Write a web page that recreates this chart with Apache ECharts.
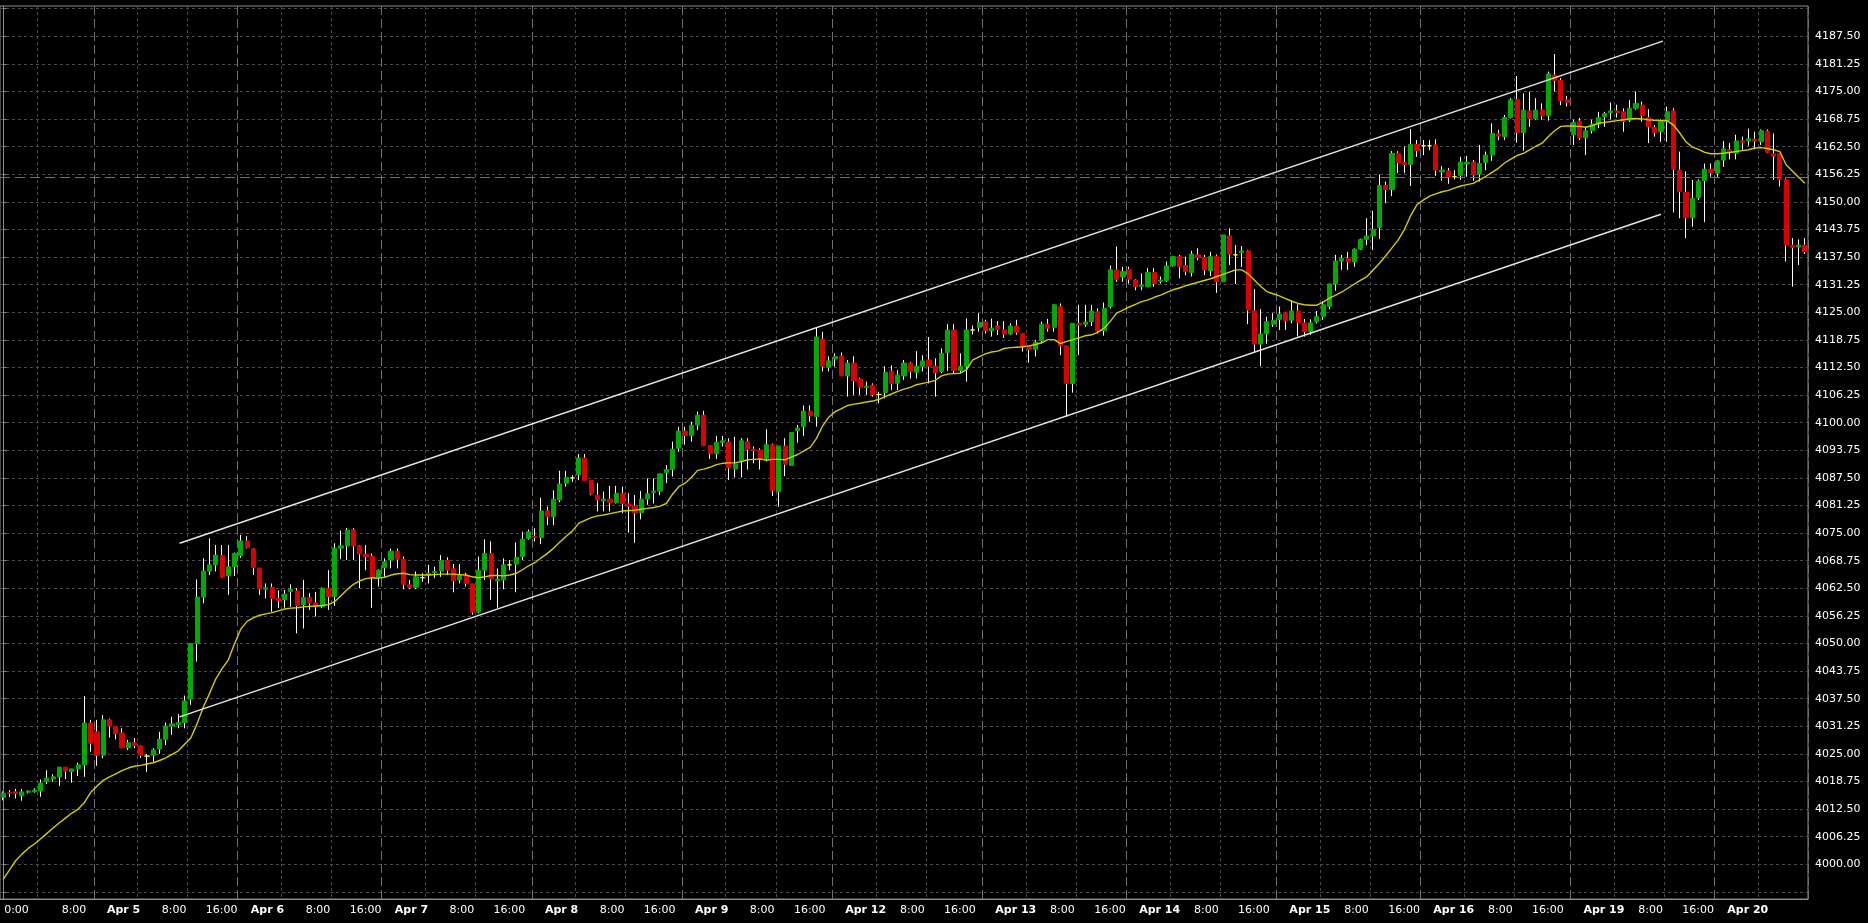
<!DOCTYPE html>
<html>
<head>
<meta charset="utf-8">
<script src="https://cdn.jsdelivr.net/npm/echarts@6/dist/echarts.min.js"></script>
<style>html,body{margin:0;padding:0;background:#000;}#chart{width:1868px;height:923px;}</style>
</head>
<body>
<div id="chart"></div>
<script>
// ---- hourly bars ----
const openP = [
4015.2,4016.3,4016.4,4015.5,4016.3,4016.4,4016.6,4018.7,4019.3,4019.8,
4022.0,4021.0,4021.6,4022.5,4032.0,4030.0,4024.7,4032.7,4031.2,4029.7,
4026.4,4027.5,4026.8,4024.5,4024.7,4026.1,4028.3,4031.3,4031.6,4032.1,
4037.4,4050.0,4060.5,4066.4,4067.8,4069.9,4065.3,4067.4,4069.9,4073.2,
4071.4,4067.1,4062.3,4062.7,4060.2,4059.9,4061.8,4061.9,4058.8,4060.4,
4059.2,4058.3,4062.5,4060.6,4071.6,4072.1,4075.7,4072.1,4070.2,4069.8,
4064.9,4067.2,4068.9,4070.9,4069.1,4063.3,4062.7,4064.9,4065.5,4066.0,
4066.4,4068.8,4066.9,4064.4,4065.3,4063.5,4057.1,4066.6,4070.4,4064.2,
4064.4,4067.8,4068.0,4069.7,4073.8,4074.3,4074.0,4080.0,4078.7,4082.5,
4086.3,4087.5,4088.2,4092.0,4087.0,4083.6,4082.3,4082.7,4081.9,4084.0,
4081.6,4081.1,4079.6,4082.7,4084.2,4084.5,4088.7,4089.4,4094.2,4098.1,
4097.1,4099.5,4101.7,4094.8,4093.0,4095.5,4095.6,4089.5,4091.4,4095.7,
4094.0,4093.8,4091.8,4095.0,4084.4,4094.7,4090.3,4098.2,4099.1,4102.6,
4101.4,4118.9,4112.5,4114.4,4115.1,4110.6,4113.5,4109.9,4108.0,4108.5,
4106.4,4106.8,4111.7,4108.9,4110.6,4113.5,4111.4,4112.8,4114.2,4112.8,
4111.6,4115.9,4121.0,4111.8,4112.7,4121.0,4121.6,4122.9,4120.8,4121.9,
4121.0,4120.1,4121.9,4120.2,4117.5,4116.6,4118.6,4122.3,4121.6,4126.3,
4117.4,4108.9,4122.5,4122.3,4122.9,4125.1,4120.8,4126.3,4134.6,4133.0,
4134.7,4132.3,4130.9,4130.8,4134.0,4132.0,4132.2,4135.5,4137.6,4135.6,
4134.0,4138.0,4137.4,4134.4,4137.7,4131.9,4142.3,4138.0,4138.5,4138.9,
4125.3,4117.8,4120.1,4122.3,4123.4,4124.9,4123.2,4125.3,4122.6,4120.6,
4122.9,4124.0,4126.3,4131.4,4136.6,4137.2,4136.4,4139.3,4141.5,4142.3,
4144.2,4153.7,4152.8,4161.0,4158.9,4158.5,4163.0,4162.7,4162.7,4162.9,
4156.8,4157.0,4155.7,4156.0,4158.6,4159.0,4156.3,4158.9,4160.6,4165.4,
4164.8,4169.1,4173.2,4165.7,4170.6,4168.9,4170.8,4169.5,4178.7,4177.5,
4173.1,4165.2,4168.3,4164.5,4166.1,4167.6,4169.3,4170.2,4170.6,4170.4,
4168.5,4171.2,4171.9,4169.1,4166.9,4165.9,4168.4,4170.6,4157.2,4152.2,
4146.4,4150.9,4154.8,4157.4,4156.5,4159.5,4161.8,4161.0,4163.8,4163.8,
4164.2,4163.6,4166.0,4160.9,4160.9,4155.0,4140.2,4139.8,4140.2];
const closeP = [
4016.1,4016.0,4016.0,4016.4,4016.6,4016.8,4018.4,4019.5,4019.8,4022.0,
4021.1,4021.6,4022.5,4032.0,4027.4,4024.7,4032.7,4031.3,4029.6,4026.4,
4027.5,4026.9,4024.7,4024.5,4025.9,4028.3,4031.3,4031.8,4032.1,4037.0,
4050.0,4060.5,4066.4,4067.8,4070.0,4065.0,4067.4,4070.4,4073.2,4071.7,
4067.2,4062.3,4062.6,4060.2,4059.7,4061.2,4062.3,4058.6,4060.4,4059.2,
4058.3,4062.5,4060.6,4071.6,4072.1,4075.6,4072.1,4070.3,4069.7,4064.9,
4066.6,4068.5,4070.9,4069.1,4063.4,4062.7,4065.1,4064.9,4065.9,4066.3,
4068.8,4066.6,4064.2,4065.4,4063.6,4057.1,4066.6,4070.4,4064.6,4064.6,
4067.8,4067.8,4069.5,4073.6,4075.3,4074.0,4080.0,4078.7,4082.7,4086.1,
4087.6,4087.5,4092.0,4086.9,4083.9,4082.5,4082.7,4081.9,4084.0,4081.7,
4081.1,4079.6,4082.7,4083.9,4084.5,4088.4,4089.4,4094.0,4098.1,4097.1,
4099.4,4101.7,4094.8,4093.0,4095.5,4095.9,4089.8,4090.6,4095.9,4094.0,
4093.7,4091.8,4095.0,4084.6,4094.7,4090.6,4097.8,4098.8,4102.6,4101.6,
4119.4,4112.8,4114.0,4115.0,4110.6,4113.5,4109.5,4108.0,4108.3,4106.4,
4106.4,4111.4,4108.9,4110.8,4113.5,4111.6,4112.8,4114.0,4112.8,4111.3,
4115.7,4121.0,4111.8,4112.8,4121.0,4121.0,4122.7,4120.8,4121.4,4121.1,
4120.1,4121.9,4120.5,4117.4,4116.6,4118.2,4122.3,4121.4,4126.7,4117.4,
4108.9,4122.5,4122.1,4122.8,4125.3,4120.8,4125.9,4134.6,4132.5,4134.2,
4132.5,4130.8,4131.2,4134.0,4131.5,4132.3,4135.5,4137.6,4135.3,4134.2,
4138.2,4137.4,4134.6,4137.6,4131.9,4142.5,4138.2,4138.0,4138.9,4125.5,
4117.8,4120.1,4122.9,4123.2,4124.6,4123.1,4125.3,4122.6,4120.6,4122.6,
4124.0,4126.7,4131.4,4136.6,4137.2,4136.4,4139.3,4141.5,4142.3,4143.8,
4153.7,4152.8,4161.0,4158.9,4158.5,4163.0,4161.6,4162.7,4162.7,4157.2,
4157.2,4155.7,4155.7,4159.0,4159.0,4156.1,4158.7,4160.6,4165.5,4164.9,
4169.1,4173.1,4165.7,4170.8,4168.9,4170.8,4169.5,4179.0,4177.5,4172.9,
4172.5,4168.0,4164.5,4166.1,4167.6,4169.1,4170.0,4170.6,4170.2,4168.2,
4171.2,4172.3,4169.5,4167.0,4165.7,4168.2,4170.4,4157.4,4152.3,4146.4,
4150.8,4154.7,4157.4,4156.6,4159.3,4162.0,4161.2,4163.8,4163.4,4164.3,
4163.8,4166.1,4161.2,4160.4,4155.0,4140.2,4139.7,4140.2,4138.7];
const lowP = [
4014.5,4015.2,4014.9,4014.4,4016.0,4016.2,4015.3,4018.2,4018.7,4017.7,
4019.3,4018.5,4020.0,4019.8,4025.5,4022.3,4024.0,4028.7,4028.3,4026.3,
4025.9,4026.3,4024.1,4020.9,4023.2,4025.0,4027.0,4029.3,4030.8,4030.8,
4036.1,4045.9,4059.1,4065.5,4066.3,4064.8,4061.0,4065.3,4069.4,4071.5,
4065.5,4061.0,4060.2,4057.2,4058.0,4058.1,4058.3,4052.3,4053.4,4057.6,
4056.1,4058.0,4057.6,4058.5,4069.1,4068.9,4068.9,4062.5,4066.6,4058.1,
4062.9,4065.1,4067.0,4067.0,4062.3,4062.3,4062.3,4064.0,4063.6,4064.8,
4065.1,4065.5,4061.6,4063.6,4062.9,4056.5,4056.8,4064.4,4059.9,4058.1,
4062.3,4066.6,4061.6,4068.9,4073.5,4073.1,4072.5,4076.8,4076.8,4082.0,
4085.5,4086.6,4087.0,4086.8,4083.6,4079.9,4079.9,4079.9,4081.7,4079.5,
4075.1,4072.8,4078.1,4081.4,4081.7,4083.6,4086.3,4087.8,4093.4,4095.0,
4095.7,4098.3,4094.7,4091.8,4091.8,4094.6,4087.0,4087.6,4087.6,4089.4,
4090.8,4089.4,4091.2,4083.4,4081.0,4087.9,4090.3,4095.5,4097.0,4100.2,
4099.1,4111.6,4111.6,4112.7,4110.6,4105.9,4106.3,4106.3,4106.3,4105.9,
4104.4,4105.5,4107.4,4107.4,4109.7,4110.0,4110.0,4111.6,4108.9,4105.9,
4111.2,4111.7,4111.2,4111.2,4109.3,4120.0,4120.6,4120.2,4119.5,4119.9,
4119.2,4119.9,4119.9,4116.1,4113.6,4115.0,4118.0,4120.6,4120.6,4115.3,
4101.4,4106.8,4115.3,4121.7,4121.9,4120.2,4119.7,4125.9,4131.9,4131.9,
4131.5,4130.0,4130.0,4130.7,4130.8,4131.5,4131.9,4135.3,4132.7,4133.4,
4133.1,4136.8,4133.4,4133.2,4129.4,4131.9,4135.7,4131.4,4135.3,4122.3,
4115.9,4112.8,4117.9,4121.7,4121.0,4121.0,4122.5,4119.5,4119.5,4119.9,
4122.5,4123.3,4125.7,4129.9,4134.6,4134.6,4135.3,4139.1,4140.2,4139.1,
4141.6,4149.7,4151.3,4156.5,4156.5,4153.6,4160.2,4160.6,4161.7,4155.9,
4154.8,4154.1,4155.1,4155.0,4155.7,4154.8,4154.6,4157.2,4159.3,4164.0,
4164.0,4168.9,4163.4,4161.6,4167.0,4168.6,4168.6,4168.4,4175.0,4171.9,
4171.6,4162.9,4164.0,4160.6,4165.5,4166.7,4167.0,4168.7,4169.1,4165.9,
4168.1,4170.9,4168.2,4163.3,4164.8,4163.6,4163.6,4147.6,4146.3,4141.8,
4144.4,4150.4,4145.4,4155.7,4155.7,4157.9,4159.6,4159.6,4161.8,4162.7,
4161.9,4162.9,4161.0,4155.0,4153.5,4136.5,4130.8,4135.7,4138.2];
const highP = [
4016.5,4016.8,4017.1,4017.0,4016.8,4017.2,4019.2,4021.3,4020.4,4022.0,
4022.0,4021.6,4023.0,4038.1,4032.7,4032.7,4033.8,4033.0,4031.3,4030.8,
4028.1,4028.6,4026.9,4025.0,4026.3,4030.0,4032.1,4033.4,4034.0,4038.2,
4050.0,4064.5,4069.3,4073.8,4072.3,4072.3,4072.3,4070.6,4074.6,4074.3,
4071.6,4067.1,4063.6,4063.6,4062.0,4062.1,4063.4,4062.5,4064.4,4061.4,
4061.7,4062.7,4066.6,4072.7,4075.6,4076.1,4076.1,4072.3,4072.3,4070.4,
4066.8,4069.3,4071.5,4071.5,4069.7,4064.4,4066.3,4065.9,4067.8,4067.4,
4070.0,4069.5,4068.0,4068.0,4066.0,4063.5,4069.7,4073.6,4073.1,4067.0,
4069.3,4068.9,4072.9,4075.3,4075.8,4076.1,4083.0,4081.0,4084.7,4089.1,
4089.1,4088.1,4092.9,4092.9,4087.0,4086.3,4084.4,4085.7,4085.7,4085.5,
4084.0,4083.6,4084.5,4087.4,4087.4,4088.5,4090.4,4095.7,4099.1,4099.1,
4100.2,4102.5,4102.7,4094.9,4097.0,4097.0,4096.5,4096.8,4096.5,4096.5,
4094.6,4094.2,4098.5,4095.3,4094.7,4096.5,4097.8,4099.5,4103.9,4103.9,
4121.6,4120.6,4115.0,4115.7,4115.9,4114.2,4115.0,4110.2,4109.3,4108.9,
4107.0,4112.8,4113.0,4111.9,4114.2,4113.8,4116.2,4115.3,4119.4,4114.6,
4116.8,4122.3,4122.3,4115.7,4123.6,4122.0,4124.8,4123.3,4123.6,4123.0,
4123.0,4122.5,4123.3,4120.2,4117.6,4118.7,4122.9,4123.5,4126.9,4127.0,
4117.4,4122.5,4126.7,4126.7,4126.7,4125.9,4127.2,4135.6,4139.9,4135.3,
4135.3,4132.5,4133.8,4135.0,4135.0,4133.1,4136.5,4137.8,4138.0,4137.6,
4138.9,4139.5,4138.0,4138.7,4138.1,4142.5,4144.0,4140.2,4140.0,4139.1,
4130.3,4125.7,4124.0,4124.8,4126.3,4125.1,4127.6,4126.8,4123.5,4123.4,
4125.3,4127.5,4131.5,4138.0,4138.0,4138.7,4139.5,4141.7,4146.3,4148.0,
4156.2,4154.6,4161.5,4161.5,4162.5,4166.5,4164.0,4164.0,4164.0,4164.2,
4158.1,4157.7,4157.2,4160.2,4160.4,4159.5,4162.9,4161.4,4167.8,4166.3,
4169.7,4173.5,4178.5,4174.6,4175.0,4173.5,4172.3,4179.5,4183.5,4178.0,
4174.0,4168.6,4169.0,4167.0,4168.6,4170.4,4170.4,4172.5,4172.0,4171.2,
4173.1,4175.0,4172.7,4171.0,4167.4,4168.7,4171.6,4171.2,4161.4,4156.9,
4155.0,4155.1,4158.7,4158.7,4159.5,4163.8,4163.3,4165.2,4164.8,4166.6,
4165.9,4166.4,4166.4,4165.5,4161.0,4155.3,4141.8,4141.5,4141.8];
// yellow moving-average line, one value per bar
const maLine = [
3996.6,3998.7,4000.8,4002.3,4003.6,4004.6,4005.8,4007.0,4008.2,4009.4,
4010.5,4011.6,4012.5,4014.0,4016.3,4017.7,4019.0,4019.8,4020.5,4021.2,
4021.8,4022.2,4022.4,4022.7,4023.0,4023.5,4024.1,4024.9,4025.7,4027.2,
4028.6,4031.8,4035.6,4038.7,4042.0,4044.3,4046.3,4050.0,4053.3,4055.0,
4055.8,4056.4,4056.7,4057.0,4057.4,4057.8,4058.0,4058.1,4058.3,4058.4,
4058.5,4058.6,4058.8,4059.5,4060.8,4062.2,4063.4,4064.2,4064.7,4064.9,
4064.8,4065.0,4065.5,4065.8,4065.9,4065.6,4065.5,4065.5,4065.5,4065.6,
4065.7,4065.7,4065.7,4065.6,4065.5,4065.1,4064.9,4065.1,4065.4,4065.4,
4065.3,4065.5,4065.9,4066.7,4067.6,4068.3,4069.4,4070.4,4071.6,4073.0,
4074.3,4075.5,4077.2,4077.9,4078.5,4078.9,4079.1,4079.4,4079.7,4080.0,
4080.1,4080.2,4080.4,4080.6,4080.8,4081.1,4081.7,4083.8,4085.5,4086.3,
4087.6,4089.2,4089.5,4089.9,4090.5,4090.8,4090.9,4090.9,4091.2,4091.6,
4091.7,4091.8,4091.5,4091.7,4091.7,4091.6,4092.2,4092.8,4093.6,4094.4,
4096.4,4099.3,4101.3,4102.5,4103.2,4103.9,4104.2,4104.4,4104.7,4104.9,
4105.3,4105.9,4106.5,4107.1,4107.6,4108.0,4108.6,4108.9,4109.2,4109.6,
4110.6,4111.0,4111.1,4111.2,4112.0,4114.2,4114.9,4115.6,4116.0,4116.2,
4116.8,4117.0,4117.1,4117.2,4117.4,4117.7,4118.1,4118.8,4118.8,4117.9,
4118.4,4118.8,4119.2,4119.7,4119.9,4120.5,4121.4,4123.0,4124.8,4125.5,
4126.2,4126.8,4127.4,4127.8,4128.4,4128.9,4129.5,4130.1,4130.5,4131.0,
4131.4,4131.8,4132.2,4132.6,4133.1,4133.6,4134.1,4134.6,4134.6,4133.7,
4132.3,4130.9,4129.7,4129.2,4128.7,4128.1,4127.5,4127.0,4126.7,4126.6,
4126.6,4127.3,4128.2,4128.9,4129.6,4130.5,4131.4,4132.3,4133.1,4134.6,
4136.1,4137.8,4139.6,4141.4,4143.8,4146.9,4149.4,4150.4,4151.3,4151.8,
4152.3,4152.6,4153.1,4153.6,4153.9,4154.2,4155.0,4155.8,4156.7,4157.6,
4158.8,4159.7,4160.5,4161.0,4161.8,4162.6,4163.3,4164.8,4166.1,4167.1,
4167.2,4167.2,4167.1,4166.9,4167.3,4167.8,4168.0,4168.2,4168.4,4168.6,
4168.8,4168.9,4168.8,4168.6,4168.5,4168.4,4168.4,4167.4,4165.6,4163.6,
4162.4,4161.9,4161.2,4160.9,4160.9,4161.0,4161.2,4161.4,4161.6,4161.8,
4162.2,4162.3,4162.1,4161.8,4161.4,4158.4,4157.0,4155.6,4154.2];

// sessions: date label and the bar that opens it
const dayNames    = ['Apr 5','Apr 6','Apr 7','Apr 8','Apr 9','Apr 12','Apr 13','Apr 14','Apr 15','Apr 16','Apr 19','Apr 20'];
const dayStartBar = [15, 38, 61, 85, 109, 133, 157, 180, 204, 227, 251, 274];
const firstTicks  = [[0, '0:00'], [6, '8:00']];   // partial session at the left edge
const hourTicks   = [[7, '8:00'], [15, '16:00']];  // bars after the session open

// y axis ticks / labels
const yTickValues = [3993.75,4000,4006.25,4012.5,4018.75,4025,4031.25,4037.5,4043.75,4050,4056.25,4062.5,4068.75,4075,4081.25,4087.5,4093.75,4100,4106.25,4112.5,4118.75,4125,4131.25,4137.5,4143.75,4150,4156.25,4162.5,4168.75,4175,4181.25,4187.5,4193.75];
const yLabelValues = [4000,4006.25,4012.5,4018.75,4025,4031.25,4037.5,4043.75,4050,4056.25,4062.5,4068.75,4075,4081.25,4087.5,4093.75,4100,4106.25,4112.5,4118.75,4125,4131.25,4137.5,4143.75,4150,4156.25,4162.5,4168.75,4175,4181.25,4187.5];
const yMin = 3992.14, yMax = 4194.36;

// channel lines (bar index, price) and horizontal level
const channelUpper = [[28.2, 4072.7], [265.3, 4186.4]];
const channelLower = [[28.2, 4033.4], [265.0, 4147.2]];
const hLevel = 4155.6;

// ---- build ----
const N = openP.length;
const cats = openP.map((_, i) => String(i));
const GRID_L = 0, GRID_W = 1808, GRID_T = 6, GRID_H = 893;
const bw = GRID_W / N;

const tickInfo = new Array(N).fill(null);
firstTicks.forEach(([b, t], j) => { tickInfo[b] = {text: t, kind: j === 0 ? 'first' : 'time'}; });
dayStartBar.forEach((s, d) => {
  tickInfo[s] = {text: dayNames[d], kind: 'day'};
  hourTicks.forEach(([o, t]) => { if (s + o < N) tickInfo[s + o] = {text: t, kind: 'time'}; });
});
function styleKey(t) { return t.kind === 'day' ? 'd' : t.kind === 'first' ? 'f' : (t.text.length > 4 ? 'u' : 't'); }
const PAD = {d: 10, t: 21, u: 15, f: 1};
function textW(t, kind) { return t.length * (kind === 'day' ? 7.3 : 6.6); }
tickInfo.forEach((t, i) => {
  if (!t) return;
  const left = (i + 0.5) * bw + PAD[styleKey(t)];
  t.showLabel = left + textW(t.text, t.kind) <= GRID_W - 6;
});

const wickData = openP.map((o, i) => [o, closeP[i], lowP[i], highP[i]]);
const bodyData = openP.map((o, i) => [o, closeP[i], Math.min(o, closeP[i]), Math.max(o, closeP[i])]);

const FONT = 'DejaVu Sans';
const lbl = (extra) => Object.assign({color: '#ffffff', fontFamily: FONT, fontSize: 11}, extra);
const chart = echarts.init(document.getElementById('chart'), null, {renderer: 'canvas'});
chart.setOption({
  backgroundColor: '#000000',
  animation: false,
  grid: {left: GRID_L, top: GRID_T, width: GRID_W, height: GRID_H, show: true,
         borderColor: '#8c8c8c', borderWidth: 1, backgroundColor: '#000000'},
  xAxis: [
    {
      type: 'category', data: cats, boundaryGap: true, position: 'bottom',
      axisLine: {show: true, lineStyle: {color: '#8c8c8c', width: 1}},
      axisTick: {show: false},
      axisLabel: {
        show: true, color: '#ffffff', fontFamily: FONT, fontSize: 11, align: 'left', margin: 6,
        interval: (i) => !!(tickInfo[i] && tickInfo[i].showLabel),
        formatter: (v, i) => {
          const t = tickInfo[i];
          if (!t) return '';
          return '{' + styleKey(t) + '|' + t.text + '}';
        },
        rich: {
          d: lbl({fontWeight: 'bold', padding: [0, 0, 0, PAD.d]}),
          t: lbl({padding: [0, 0, 0, PAD.t]}),
          u: lbl({padding: [0, 0, 0, PAD.u]}),
          f: lbl({padding: [0, 0, 0, PAD.f]})
        }
      },
      splitLine: {show: true, interval: (i) => !!(tickInfo[i] && tickInfo[i].kind === 'time'),
                  lineStyle: {color: '#4a4a4a', width: 1, type: [3, 3]}}
    },
    {
      type: 'category', data: cats, boundaryGap: true, position: 'bottom',
      axisLine: {show: false}, axisTick: {show: false}, axisLabel: {show: false},
      splitLine: {show: true, interval: (i) => !!(tickInfo[i] && tickInfo[i].kind === 'day'),
                  lineStyle: {color: '#6e6e6e', width: 1, type: [9, 4]}}
    },
    {type: 'value', min: -0.5, max: N - 0.5, show: false}
  ],
  yAxis: {
    type: 'value', position: 'right', min: yMin, max: yMax, scale: true,
    axisLine: {show: true, lineStyle: {color: '#8c8c8c', width: 1}},
    axisTick: {show: true, customValues: yTickValues, length: 3, lineStyle: {color: '#8c8c8c'}},
    axisLabel: {show: true, customValues: yLabelValues, color: '#ffffff', fontFamily: FONT, fontSize: 11,
                margin: 7, formatter: (v) => Number(v).toFixed(2)},
    splitLine: {show: true, lineStyle: {color: '#4a4a4a', width: 1, type: [3, 3]}}
  },
  series: [
    {
      name: 'wicks', type: 'candlestick', xAxisIndex: 0, data: wickData, barWidth: 1, silent: true,
      itemStyle: {color: '#ffffff', color0: '#ffffff', borderColor: '#ffffff', borderColor0: '#ffffff',
                  borderColorDoji: '#ffffff', borderWidth: 1}
    },
    {
      name: 'bodies', type: 'candlestick', xAxisIndex: 0, data: bodyData, barWidth: 4.6, silent: true,
      itemStyle: {color: '#00aa00', color0: '#da0000', borderColor: '#00aa00', borderColor0: '#da0000',
                  borderColorDoji: '#ffff00', borderWidth: 1}
    },
    {
      name: 'MA', type: 'line', xAxisIndex: 0, data: maLine, showSymbol: false, symbol: 'none',
      lineStyle: {color: '#d2cc00', width: 1.4}, z: 5, silent: true,
      markLine: {silent: true, symbol: 'none', label: {show: false},
                 lineStyle: {color: '#707070', width: 1, type: [10, 5]},
                 data: [{yAxis: hLevel}]}
    },
    {name: 'upper', type: 'line', xAxisIndex: 2, data: channelUpper, showSymbol: false, symbol: 'none',
     lineStyle: {color: '#e6e6e6', width: 1.4}, z: 6, silent: true},
    {name: 'lower', type: 'line', xAxisIndex: 2, data: channelLower, showSymbol: false, symbol: 'none',
     lineStyle: {color: '#e6e6e6', width: 1.4}, z: 6, silent: true}
  ]
});
</script>
</body>
</html>
